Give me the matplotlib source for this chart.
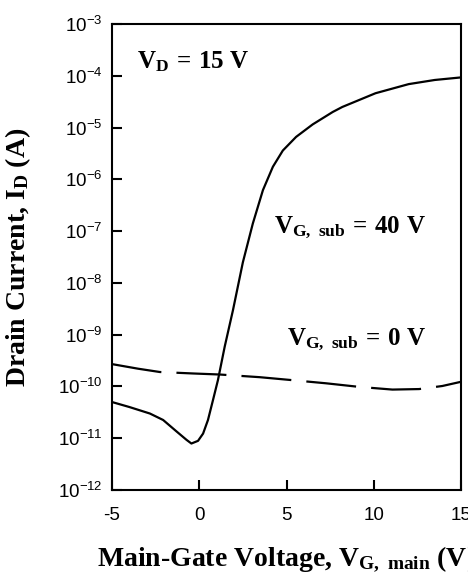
import numpy as np
import matplotlib
matplotlib.use('Agg')
import matplotlib.pyplot as plt
from matplotlib.ticker import FixedLocator, FuncFormatter, NullLocator

plt.rcParams['mathtext.fontset'] = 'custom'
plt.rcParams['mathtext.rm'] = 'Liberation Serif:bold'
plt.rcParams['mathtext.it'] = 'Liberation Serif:bold'
plt.rcParams['mathtext.bf'] = 'Liberation Serif:bold'
plt.rcParams['mathtext.sf'] = 'Liberation Sans'
plt.rcParams['mathtext.default'] = 'rm'

# V_G,sub = 40 V (solid)
vg_40 = [-5.0, -4.0, -2.83, -2.07, -1.3, -0.73, -0.45, -0.07, 0.22, 0.5, 0.79,
         1.07, 1.46, 1.93, 2.5, 3.07, 3.65, 4.22, 4.79, 5.55, 6.5, 7.65, 8.2,
         10.1, 12.0, 13.5, 15.0]
id_40 = [5.0e-11, 4.0e-11, 3.0e-11, 2.25e-11, 1.35e-11, 9.3e-12, 7.9e-12, 8.9e-12,
         1.23e-11, 2.25e-11, 5.5e-11, 1.32e-10, 5.9e-10, 2.95e-9, 2.5e-8, 1.4e-7,
         6.2e-7, 1.75e-6, 3.6e-6, 6.6e-6, 1.15e-5, 2.0e-5, 2.5e-5, 4.6e-5, 6.9e-5,
         8.3e-5, 9.3e-5]

# V_G,sub = 0 V (dashed)
vg_0 = [-5.0, -3.5, -2.26, -0.35, 1.17, 3.46, 5.36, 7.27, 9.17, 11.07, 12.6, 13.93, 15.0]
id_0 = [2.7e-10, 2.2e-10, 1.9e-10, 1.78e-10, 1.7e-10, 1.51e-10, 1.32e-10,
        1.15e-10, 9.8e-11, 8.7e-11, 8.9e-11, 1.02e-10, 1.23e-10]

y_decades = list(range(-12, -2))
x_ticks = [-5, 0, 5, 10, 15]

fig = plt.figure(figsize=(4.68, 5.84), dpi=100)
ax = fig.add_axes([112 / 468, 94 / 584, 349 / 468, 466 / 584])

ax.plot(vg_40, id_40, color='black', lw=1.6, solid_joinstyle='round')
ax.plot(vg_0, id_0, color='black', lw=1.6, dashes=(22.5, 6.8))

ax.set_yscale('log')
ax.set_xlim(-5, 15)
ax.set_ylim(1e-12, 1e-3)
ax.yaxis.set_major_locator(FixedLocator([10.0 ** d for d in y_decades]))
ax.yaxis.set_minor_locator(NullLocator())
ax.yaxis.set_major_formatter(FuncFormatter(
    lambda v, p: r'$\mathsf{10^{%d}}$' % round(np.log10(v))))
ax.xaxis.set_major_locator(FixedLocator(x_ticks))
ax.xaxis.set_major_formatter(FuncFormatter(lambda v, p: '%d' % v))

for s in ax.spines.values():
    s.set_linewidth(1.5)
ax.tick_params(direction='in', length=7, width=1.5, top=False, right=False,
               labelsize=13.5)
ax.tick_params(axis='y', pad=7)
ax.tick_params(axis='x', pad=12)
for lab in ax.get_xticklabels():
    lab.set_fontfamily('Liberation Sans')

lab_kw = dict(fontfamily='Liberation Serif', fontweight='bold', fontsize=20)
ax.set_ylabel(r'Drain Current, $\mathrm{I_D}$ (A)', **lab_kw)
ax.yaxis.set_label_coords(-0.225, 0.5)
ax.set_xlabel(r'Main-Gate Voltage, $\mathrm{V_{G,\ main}}$ (V)', **lab_kw)
ax.xaxis.set_label_coords(0.5, -0.115)

ann_kw = dict(fontfamily='Liberation Serif', fontweight='bold', fontsize=18,
              ha='left', va='baseline')
ax.text(-3.55, 10 ** -3.85, r'$\mathrm{V_D\,=\,15\ V}$', **ann_kw)
ax.text(4.3, 10 ** -7.04, r'$\mathrm{V_{G,\ sub}\,=\,40\ V}$', **ann_kw)
ax.text(5.05, 10 ** -9.2, r'$\mathrm{V_{G,\ sub}\,=\,0\ V}$', **ann_kw)

fig.savefig('out.png', dpi=100)
plt.close(fig)
